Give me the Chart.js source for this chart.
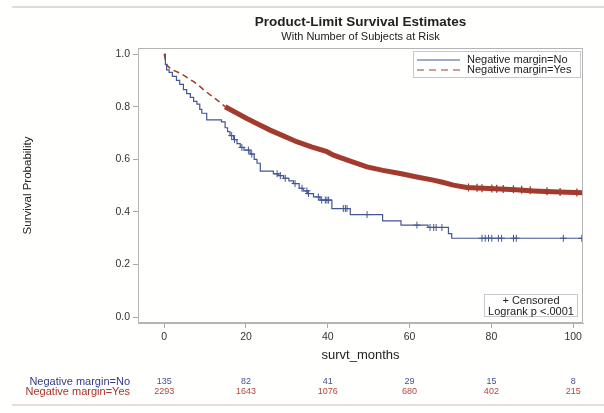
<!DOCTYPE html>
<html>
<head>
<meta charset="utf-8">
<script src="https://cdn.jsdelivr.net/npm/chart.js@4.4.1/dist/chart.umd.min.js"></script>
<style>
    html, body { margin: 0; padding: 0; background: #fff; }
    #wrap { position: relative; width: 604px; height: 413px; background: #fffffd; }
    .edge { position: absolute; left: 12px; right: 0; height: 2px; }
    #topEdge { top: 6px; background: #dcdcdc; }
    #bottomEdge { top: 404px; background: #eadbd4; }
    canvas { position: absolute; left: 0; top: 0; }
</style>
</head>
<body>
<div id="wrap">
    <div class="edge" id="topEdge"></div>
    <div class="edge" id="bottomEdge"></div>
    <canvas id="kmChart" width="604" height="413"></canvas>
</div>
<script>
const FONT = "'Liberation Sans', Arial, sans-serif";
const blue = "#445694";
const red = "#A23A2E";

// Negative margin=No (KM steps)
const timeNo = [0, 0.3, 0.6, 1.2, 2, 3, 3.8, 4.7, 5.5, 6.4, 7.2, 8, 8.7, 9.2, 10.4, 14, 14.9, 15.5, 16.1, 17, 17.8, 18.6, 19.5, 21, 22, 22.7, 23.5, 26.7, 28, 29.2, 30.5, 31.6, 33, 34, 35, 36.5, 38.1, 41, 45.5, 53.4, 57.9, 64.5, 69.5, 70.3, 102.4];
const survNo = [1.0, 0.96, 0.94, 0.93, 0.915, 0.9, 0.885, 0.865, 0.85, 0.835, 0.82, 0.81, 0.79, 0.775, 0.75, 0.742, 0.72, 0.705, 0.69, 0.675, 0.66, 0.645, 0.635, 0.62, 0.6, 0.585, 0.555, 0.545, 0.538, 0.528, 0.518, 0.508, 0.49, 0.48, 0.47, 0.457, 0.445, 0.413, 0.39, 0.366, 0.35, 0.341, 0.318, 0.3, 0.3];
const censorNoTime = [16.5, 17.2, 19, 20.6, 21.4, 27.6, 28.4, 29.6, 32, 33.7, 34.9, 35.3, 37.7, 38.5, 39.4, 39.8, 40.2, 43.8, 44.3, 44.7, 49.6, 61.8, 65, 65.9, 66.5, 67.9, 77.7, 78.5, 79.3, 80.1, 81.7, 82.5, 85.4, 86.1, 97.6, 102.1];
const censorNoSurv = [0.69, 0.675, 0.645, 0.635, 0.62, 0.545, 0.538, 0.528, 0.508, 0.49, 0.48, 0.47, 0.457, 0.445, 0.445, 0.445, 0.445, 0.413, 0.413, 0.413, 0.39, 0.35, 0.341, 0.341, 0.341, 0.341, 0.3, 0.3, 0.3, 0.3, 0.3, 0.3, 0.3, 0.3, 0.3, 0.3];

// Negative margin=Yes (2293 subjects, steps too fine to see)
const timeYes = [0, 0.4, 0.8, 1.5, 2.3, 3.5, 4.7, 6, 7.2, 8.5, 9.6, 11, 12.9, 14.9, 17.5, 20.2, 23, 25.9, 29, 32.4, 36, 39.8, 41.4, 45.5, 49.6, 53.5, 57.7, 61.8, 65.8, 68.3, 70.7, 74, 78, 82.2, 86, 90.3, 95, 98.5, 102.4];
const survYes = [1.0, 0.97, 0.955, 0.945, 0.938, 0.93, 0.92, 0.907, 0.895, 0.88, 0.865, 0.848, 0.826, 0.8, 0.778, 0.755, 0.733, 0.711, 0.69, 0.667, 0.647, 0.629, 0.616, 0.593, 0.571, 0.558, 0.546, 0.533, 0.521, 0.512, 0.502, 0.493, 0.49, 0.487, 0.484, 0.48, 0.477, 0.475, 0.473];
const censorYesTime = [74.4, 76.5, 77.7, 80.1, 81.3, 82.9, 85.4, 87.4, 89.5, 93.6, 96.8, 100.9];
const censorYesSurv = [0.493, 0.492, 0.49, 0.489, 0.488, 0.487, 0.486, 0.484, 0.482, 0.479, 0.476, 0.474];

// band of censored marks starts here
const denseFrom = 14.9;

const xTicks = [0, 20, 40, 60, 80, 100];
const yTicks = [0, 0.2, 0.4, 0.6, 0.8, 1.0];

// Number of subjects at risk
const riskTimes = [0, 20, 40, 60, 80, 100];
const riskNo = [135, 82, 41, 29, 15, 8];
const riskYes = [2293, 1643, 1076, 680, 402, 215];

const toPoints = (xs, ys) => xs.map((x, i) => ({ x: x, y: ys[i] }));

const decorPlugin = {
    id: "decor",
    afterDraw(chart) {
        const { ctx, chartArea: a, scales } = chart;
        ctx.save();

        // frame
        ctx.strokeStyle = "#b4b4b4";
        ctx.lineWidth = 1;
        ctx.strokeRect(Math.round(a.left) + 0.5, Math.round(a.top) + 0.5, Math.round(a.right - a.left) - 1, Math.round(a.bottom - a.top) - 1);

        // legend box
        const lx = a.right - 170, ly = a.top + 3;
        ctx.fillStyle = "#ffffff";
        ctx.fillRect(lx, ly, 168, 27);
        ctx.strokeStyle = "#c8c8c8";
        ctx.strokeRect(lx + 0.5, ly + 0.5, 167, 26);
        ctx.font = "11px " + FONT;
        ctx.textBaseline = "middle";
        ctx.textAlign = "left";
        ctx.lineWidth = 1.2;
        ctx.strokeStyle = blue;
        ctx.beginPath();
        ctx.moveTo(lx + 4, ly + 9);
        ctx.lineTo(lx + 47, ly + 9);
        ctx.stroke();
        ctx.strokeStyle = red;
        ctx.setLineDash([7, 5]);
        ctx.beginPath();
        ctx.moveTo(lx + 4, ly + 19);
        ctx.lineTo(lx + 47, ly + 19);
        ctx.stroke();
        ctx.setLineDash([]);
        ctx.fillStyle = "#222";
        ctx.fillText("Negative margin=No", lx + 54, ly + 9);
        ctx.fillText("Negative margin=Yes", lx + 54, ly + 19);

        // censored / logrank box
        const cx = a.right - 99, cy = a.bottom - 29;
        ctx.fillStyle = "#ffffff";
        ctx.fillRect(cx, cy, 94, 23);
        ctx.strokeStyle = "#c8c8c8";
        ctx.lineWidth = 1;
        ctx.strokeRect(cx + 0.5, cy + 0.5, 93, 22);
        ctx.fillStyle = "#222";
        ctx.textAlign = "center";
        ctx.fillText("+ Censored", cx + 47, cy + 7);
        ctx.fillText("Logrank p <.0001", cx + 47, cy + 18);

        // at-risk table
        const x = scales.x;
        ctx.textAlign = "right";
        ctx.font = "11px " + FONT;
        ctx.fillStyle = "#34398a";
        ctx.fillText("Negative margin=No", 130, 382);
        ctx.fillStyle = "#a8342a";
        ctx.fillText("Negative margin=Yes", 130, 392);
        ctx.textAlign = "center";
        ctx.font = "9px " + FONT;
        riskTimes.forEach((t, i) => {
            const px = x.getPixelForValue(t);
            ctx.fillStyle = "#4a4f96";
            ctx.fillText(String(riskNo[i]), px, 382);
            ctx.fillStyle = "#b0463c";
            ctx.fillText(String(riskYes[i]), px, 392);
        });
        ctx.restore();
    },
};

const ctx = document.getElementById("kmChart").getContext("2d");

const kmChart = new Chart(ctx, {
    type: "line",
    data: {
        datasets: [
            {
                label: "Negative margin=No",
                data: toPoints(timeNo, survNo),
                borderColor: blue,
                borderWidth: 1.2,
                stepped: "before",
                pointRadius: 0,
                fill: false,
            },
            {
                label: "Negative margin=Yes",
                data: toPoints(timeYes, survYes),
                borderColor: red,
                borderWidth: 1.5,
                pointRadius: 0,
                fill: false,
                segment: {
                    borderWidth: (c) => (c.p0.parsed.x >= denseFrom ? 5 : 1.5),
                    borderDash: (c) => (c.p0.parsed.x >= denseFrom ? [] : [6, 4]),
                },
            },
            {
                label: "censorNo",
                type: "scatter",
                data: toPoints(censorNoTime, censorNoSurv),
                pointStyle: "cross",
                pointRadius: 3.5,
                borderColor: blue,
                backgroundColor: blue,
                borderWidth: 1,
                showLine: false,
            },
            {
                label: "censorYes",
                type: "scatter",
                data: toPoints(censorYesTime, censorYesSurv),
                pointStyle: "cross",
                pointRadius: 4,
                borderColor: red,
                backgroundColor: red,
                borderWidth: 1.3,
                showLine: false,
            },
        ],
    },
    options: {
        responsive: false,
        animation: false,
        layout: { padding: { top: 8, right: 21, bottom: 0, left: 0 } },
        plugins: {
            legend: { display: false },
            tooltip: { enabled: false },
            title: {
                display: true,
                text: "Product-Limit Survival Estimates",
                fullSize: false,
                color: "#222",
                font: { family: FONT, size: 13.5, weight: "bold" },
                padding: { top: 6, bottom: 0 },
            },
            subtitle: {
                display: true,
                text: "With Number of Subjects at Risk",
                fullSize: false,
                color: "#222",
                font: { family: FONT, size: 11 },
                padding: { top: 0, bottom: 4.6 },
            },
        },
        scales: {
            x: {
                type: "linear",
                min: -6.4,
                max: 102.4,
                afterBuildTicks: (s) => {
                    s.ticks = xTicks.map((v) => ({ value: v }));
                },
                afterFit: (s) => {
                    s.height = 90;
                },
                grid: { drawOnChartArea: false, tickLength: 5, color: "#a8a8a8" },
                border: { color: "#b4b4b4" },
                ticks: { color: "#333", padding: 3, font: { family: FONT, size: 10.5 } },
                title: {
                    display: true,
                    text: "survt_months",
                    color: "#222",
                    font: { family: FONT, size: 13 },
                    padding: { top: 0, bottom: 50 },
                },
            },
            y: {
                min: -0.022,
                max: 1.023,
                afterBuildTicks: (s) => {
                    s.ticks = yTicks.map((v) => ({ value: v }));
                },
                afterFit: (s) => {
                    s.width = 138;
                },
                grid: { drawOnChartArea: false, tickLength: 5, color: "#a8a8a8" },
                border: { color: "#b4b4b4" },
                ticks: {
                    color: "#333",
                    padding: 3,
                    font: { family: FONT, size: 10.5 },
                    callback: (v) => Number(v).toFixed(1),
                },
                title: {
                    display: true,
                    text: "Survival Probability",
                    color: "#222",
                    font: { family: FONT, size: 11.5 },
                    padding: { top: 21, bottom: 0 },
                },
            },
        },
    },
    plugins: [decorPlugin],
});
</script>
</body>
</html>
